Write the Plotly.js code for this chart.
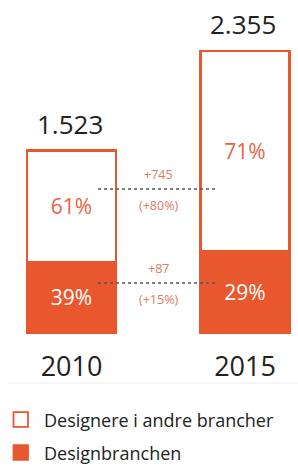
<!DOCTYPE html>
<html>
<head>
<meta charset="utf-8">
<script src="https://cdn.plot.ly/plotly-3.0.1.min.js"></script>
<style>html,body{margin:0;padding:0;background:#fff;}#chart{width:298px;height:466px;}</style>
</head>
<body>
<div id="chart"></div>
<script>
// ---- data ----
const years = ["2010", "2015"];
const seriesNames = ["Designbranchen", "Designere i andre brancher"];
const designbranchen = [594, 681];
const andreBrancher = [929, 1674];

// ---- style ----
const ORANGE = "#e9572f";
const TXT_ORANGE = "#e8643f";
const SMALL_ORANGE = "#e07a62";
const FONT = "Open Sans, sans-serif";

const totals = years.map((_, i) => designbranchen[i] + andreBrancher[i]);
const fmt = n => String(n).replace(/\B(?=(\d{3})+(?!\d))/g, ".");
const pct = (a, b) => Math.round(100 * a / b) + "%";

const pxToX = px => (px - 71.5) / 173.5;
const W = 298, H = 466;
const py = p => 1 - p / H;
const px = p => p / W;

const traces = [
  {
    type: "bar", x: years, y: designbranchen, name: seriesNames[0],
    width: 0.513, showlegend: false,
    marker: {color: ORANGE, line: {color: ORANGE, width: 2.5}},
    text: designbranchen.map((v, i) => pct(v, totals[i])),
    textposition: "inside", insidetextanchor: "middle",
    textfont: {family: FONT, size: 21, color: "#ffffff"},
    hoverinfo: "skip"
  },
  {
    type: "bar", x: years, y: andreBrancher, name: seriesNames[1],
    width: 0.513, showlegend: false,
    marker: {color: "#ffffff", line: {color: ORANGE, width: 2.5}},
    text: andreBrancher.map((v, i) => pct(v, totals[i])),
    textposition: "inside", insidetextanchor: "middle",
    textfont: {family: FONT, size: 21, color: TXT_ORANGE},
    hoverinfo: "skip"
  }
];

const dOther = andreBrancher[1] - andreBrancher[0];
const dDesign = designbranchen[1] - designbranchen[0];

const annotations = [];
years.forEach((yr, i) => {
  annotations.push({
    x: i, y: totals[i], xref: "x", yref: "y", text: fmt(totals[i]),
    showarrow: false, yanchor: "bottom", yshift: 7, xshift: -2,
    font: {family: FONT, size: 26, color: "#222222"}
  });
});
const smallFont = {family: FONT, size: 12.5, color: SMALL_ORANGE};
[
  ["+" + dOther, 175], ["(+" + Math.round(100 * dOther / andreBrancher[0]) + "%)", 205],
  ["+" + dDesign, 268], ["(+" + Math.round(100 * dDesign / designbranchen[0]) + "%)", 299.5]
].forEach(([t, yy]) => {
  annotations.push({x: px(158), y: py(yy), xref: "paper", yref: "paper", text: t,
    showarrow: false, xanchor: "center", yanchor: "middle", font: smallFont});
});
// legend (custom)
const legendRows = [
  {name: seriesNames[1], fill: "#ffffff", y: 419.5},
  {name: seriesNames[0], fill: ORANGE, y: 452.5}
];
const shapes = [
  {type: "line", xref: "paper", yref: "paper", x0: px(98), x1: px(217), y0: py(189), y1: py(189),
   line: {color: "#555555", width: 1.5, dash: "dot"}},
  {type: "line", xref: "paper", yref: "paper", x0: px(98), x1: px(217), y0: py(283), y1: py(283),
   line: {color: "#555555", width: 1.5, dash: "dot"}},
  {type: "line", xref: "paper", yref: "paper", x0: px(7), x1: px(298), y0: py(383), y1: py(383),
   line: {color: "#eeeeee", width: 1}}
];
legendRows.forEach(r => {
  shapes.push({type: "rect", xref: "paper", yref: "paper",
    x0: px(13.5), x1: px(28), y0: py(r.y - 7.3), y1: py(r.y + 7.3),
    fillcolor: r.fill, line: {color: ORANGE, width: 1.8}});
  annotations.push({x: px(42), y: py(r.y), xref: "paper", yref: "paper", text: r.name,
    showarrow: false, xanchor: "left", yanchor: "middle",
    font: {family: FONT, size: 18, color: "#222222"}});
});

const scale = 282 / 2355;
const layout = {
  width: W, height: H,
  margin: {l: 0, r: 0, t: 0, b: 0, pad: 0},
  paper_bgcolor: "#ffffff", plot_bgcolor: "#ffffff",
  barmode: "stack", showlegend: false,
  xaxis: {
    type: "category", range: [pxToX(0), pxToX(298)],
    anchor: "free", position: 1 - 333 / H,
    showgrid: false, zeroline: false, showline: false, ticks: "",
    ticklabelstandoff: 15,
    tickfont: {family: FONT, size: 27, color: "#222222"}
  },
  yaxis: {
    range: [-(H - 333) / scale, 333 / scale],
    visible: false, showgrid: false, zeroline: false
  },
  annotations: annotations,
  shapes: shapes
};

Plotly.newPlot("chart", traces, layout, {staticPlot: true, displayModeBar: false});
</script>
</body>
</html>
